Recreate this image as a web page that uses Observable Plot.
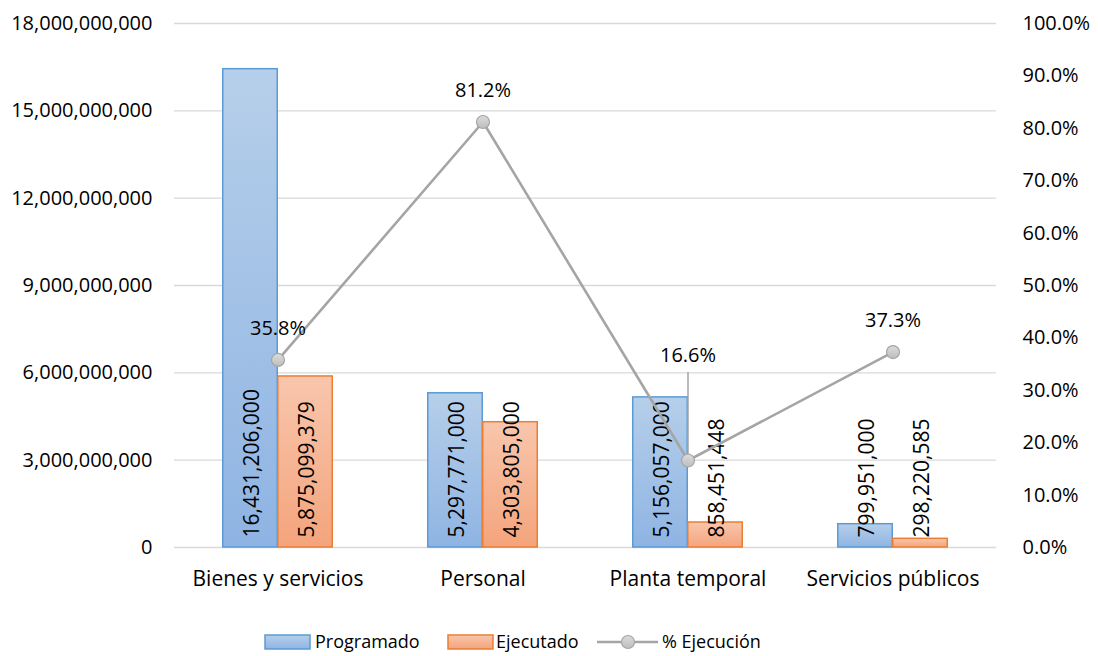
<!DOCTYPE html>
<html><head><meta charset="utf-8">
<script src="https://cdn.jsdelivr.net/npm/d3@7"></script>
<script src="https://cdn.jsdelivr.net/npm/@observablehq/plot@0.6"></script>
<style>
body{margin:0;background:#fff;font-family:"Open Sans", sans-serif;}
#legend svg{display:block}
#chart svg{display:block}
</style></head>
<body><div id="chart"></div><div id="legend"></div>
<script>
const categories = ["Bienes y servicios", "Personal", "Planta temporal", "Servicios públicos"];
const programado = [16431206000, 5297771000, 5156057000, 799951000];
const ejecutado = [5875099379, 4303805000, 858451448, 298220585];
const ejecucion = [35.8, 81.2, 16.6, 37.3];
const leftTicks = [0, 3e9, 6e9, 9e9, 12e9, 15e9, 18e9];
const pctTicks = [0, 10, 20, 30, 40, 50, 60, 70, 80, 90, 100];
const seriesNames = ["Programado", "Ejecutado", "% Ejecución"];

const W = 1098, H = 620, ML = 174, MR = 102, MT = 23, MB = H - 547;
const ymax = 18e9;
const plotH = H - MT - MB;
const bw = (W - ML - MR) / categories.length;
const barW = 55;
const toY = p => p / 100 * ymax;
const rows = categories.map((c, i) => ({c, p: programado[i], e: ejecutado[i], pct: ejecucion[i]}));
const movedLabel = "Planta temporal";
const normalRows = rows.filter(r => r.c !== movedLabel);
const movedRows = rows.filter(r => r.c === movedLabel);
const liftNormal = 31, liftMoved = 105;
const fmt = d3.format(",");
const FONT = "'Open Sans', sans-serif";

const chart = Plot.plot({
  width: W, height: H, marginLeft: ML, marginRight: MR, marginTop: MT, marginBottom: MB,
  style: {fontFamily: FONT, fontSize: "20px", color: "#000", background: "#fff"},
  x: {domain: categories, padding: 0, label: null},
  y: {domain: [0, ymax], label: null},
  marks: [
    Plot.gridY(leftTicks, {stroke: "#d9d9d9", strokeOpacity: 1, strokeWidth: 1.4}),
    Plot.axisY(leftTicks, {anchor: "left", tickSize: 0, tickPadding: 22, tickFormat: fmt, label: null}),
    Plot.axisY(pctTicks.map(toY), {anchor: "right", tickSize: 0, tickPadding: 26, label: null, tickFormat: d => (d / ymax * 100).toFixed(1) + "%"}),
    Plot.axisX({tickSize: 0, tickPadding: 24, label: null, fontSize: 21}),
    Plot.barY(rows, {x: "c", y: "p", fill: "url(#gP)", stroke: "#5b9bd5", strokeWidth: 1.5, insetLeft: bw / 2 - barW, insetRight: bw / 2}),
    Plot.barY(rows, {x: "c", y: "e", fill: "url(#gE)", stroke: "#ed7d31", strokeWidth: 1.5, insetLeft: bw / 2, insetRight: bw / 2 - barW}),
    Plot.text(rows, {x: "c", y: 0, text: d => fmt(d.p), rotate: -90, textAnchor: "start", dx: -barW / 2 + 2, dy: -10, fill: "#000", fontSize: 21}),
    Plot.text(rows, {x: "c", y: 0, text: d => fmt(d.e), rotate: -90, textAnchor: "start", dx: barW / 2 + 2, dy: -10, fill: "#000", fontSize: 21}),
    Plot.ruleX(movedRows, {x: "c", y1: d => toY(d.pct), y2: d => toY(d.pct) + (liftMoved - 17) / plotH * ymax, stroke: "#a5a5a5", strokeWidth: 1.5}),
    Plot.line(rows, {x: "c", y: d => toY(d.pct), stroke: "#a5a5a5", strokeWidth: 2.6}),
    Plot.dot(rows, {x: "c", y: d => toY(d.pct), r: 6.5, fill: "url(#gD)", stroke: "#a5a5a5", strokeWidth: 1.2}),
    Plot.text(normalRows, {x: "c", y: d => toY(d.pct), text: d => d.pct.toFixed(1) + "%", dy: -liftNormal, fill: "#000"}),
    Plot.text(movedRows, {x: "c", y: d => toY(d.pct), text: d => d.pct.toFixed(1) + "%", dy: -liftMoved, fill: "#000"})
  ]
});

function addGradients(svg) {
  const defs = d3.select(svg).insert("defs", ":first-child");
  const g = (id, top, bottom) => {
    const lg = defs.append("linearGradient").attr("id", id).attr("x1", 0).attr("y1", 0).attr("x2", 0).attr("y2", 1);
    lg.append("stop").attr("offset", "0%").attr("stop-color", top);
    lg.append("stop").attr("offset", "100%").attr("stop-color", bottom);
  };
  g("gP", "#b6cfea", "#8fb4e3");
  g("gE", "#f8c6ad", "#f4a47c");
  g("gD", "#dcdcdc", "#bdbdbd");
}
addGradients(chart);
document.getElementById("chart").appendChild(chart);

// legend
const lg = d3.select("#legend").append("svg").attr("width", W).attr("height", 36)
  .style("font-family", FONT).style("font-size", "18px");
addGradients(lg.node());
const cy = 22;
lg.append("rect").attr("x", 265).attr("y", cy - 7).attr("width", 45).attr("height", 14).attr("fill", "url(#gP)").attr("stroke", "#5b9bd5").attr("stroke-width", 1.5);
lg.append("text").attr("x", 315).attr("y", cy).attr("dy", "0.35em").text(seriesNames[0]);
lg.append("rect").attr("x", 448).attr("y", cy - 7).attr("width", 45).attr("height", 14).attr("fill", "url(#gE)").attr("stroke", "#ed7d31").attr("stroke-width", 1.5);
lg.append("text").attr("x", 496).attr("y", cy).attr("dy", "0.35em").text(seriesNames[1]);
lg.append("line").attr("x1", 597).attr("x2", 658).attr("y1", cy).attr("y2", cy).attr("stroke", "#a5a5a5").attr("stroke-width", 2.6);
lg.append("circle").attr("cx", 628).attr("cy", cy).attr("r", 6.5).attr("fill", "url(#gD)").attr("stroke", "#a5a5a5").attr("stroke-width", 1.2);
lg.append("text").attr("x", 662).attr("y", cy).attr("dy", "0.35em").text(seriesNames[2]);
</script>
</body></html>
